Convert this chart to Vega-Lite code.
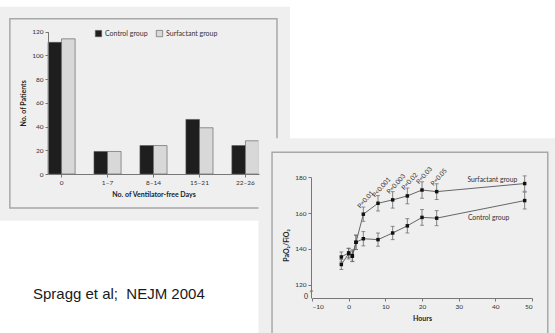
{
  "$schema": "https://vega.github.io/schema/vega-lite/v6.json",
  "width": 555,
  "height": 333,
  "autosize": {"type": "none"},
  "padding": 0,
  "background": "white",
  "config": {
    "view": {"stroke": null},
    "font": "Lato",
    "axis": {
      "labelFont": "Lato", "titleFont": "Lato", "labelFontSize": 6.5, "titleFontSize": 7,
      "titleFontWeight": "bold", "labelColor": "#333", "titleColor": "#222",
      "domainColor": "#777", "tickColor": "#777", "tickSize": 3, "grid": false, "labelPadding": 2
    }
  },
  "datasets": {
    "bars": [
      {"days": "0", "group": "Control group", "n": 111},
      {"days": "0", "group": "Surfactant group", "n": 114},
      {"days": "1–7", "group": "Control group", "n": 19},
      {"days": "1–7", "group": "Surfactant group", "n": 19},
      {"days": "8–14", "group": "Control group", "n": 24},
      {"days": "8–14", "group": "Surfactant group", "n": 24},
      {"days": "15–21", "group": "Control group", "n": 46},
      {"days": "15–21", "group": "Surfactant group", "n": 39},
      {"days": "22–26", "group": "Control group", "n": 24},
      {"days": "22–26", "group": "Surfactant group", "n": 28}
    ],
    "lines": [
      {"group": "Surfactant", "hours": -2, "value": 135.5, "err": 2.8},
      {"group": "Surfactant", "hours": 0, "value": 137.8, "err": 2.5},
      {"group": "Surfactant", "hours": 1, "value": 135.9, "err": 3},
      {"group": "Surfactant", "hours": 2, "value": 143.7, "err": 4},
      {"group": "Surfactant", "hours": 4, "value": 159.4, "err": 4, "p": "P=0.01"},
      {"group": "Surfactant", "hours": 8, "value": 165.5, "err": 4.3, "p": "P<0.001"},
      {"group": "Surfactant", "hours": 12, "value": 167.4, "err": 4.6, "p": "P=0.003"},
      {"group": "Surfactant", "hours": 16, "value": 169.6, "err": 4.4, "p": "P=0.02"},
      {"group": "Surfactant", "hours": 20, "value": 172.9, "err": 4.6, "p": "P=0.03"},
      {"group": "Surfactant", "hours": 24, "value": 172, "err": 4.4, "p": "P=0.05"},
      {"group": "Surfactant", "hours": 48, "value": 176.5, "err": 4.3},
      {"group": "Control", "hours": -2, "value": 131.3, "err": 2.8},
      {"group": "Control", "hours": 0, "value": 137.4, "err": 3},
      {"group": "Control", "hours": 1, "value": 136.3, "err": 3.2},
      {"group": "Control", "hours": 2, "value": 143.7, "err": 4},
      {"group": "Control", "hours": 4, "value": 145.7, "err": 4},
      {"group": "Control", "hours": 8, "value": 145.2, "err": 3.7},
      {"group": "Control", "hours": 12, "value": 148.9, "err": 3.7},
      {"group": "Control", "hours": 16, "value": 152.9, "err": 4},
      {"group": "Control", "hours": 20, "value": 157.6, "err": 4.4},
      {"group": "Control", "hours": 24, "value": 157.2, "err": 4.2},
      {"group": "Control", "hours": 48, "value": 167, "err": 4.7}
    ],
    "panels": [
      {"panel": "bar", "part": "sheet", "hours": -100, "hours2": -16, "value": 275.2, "value2": 155.7},
      {"panel": "bar", "part": "frame", "hours": -92.4, "hours2": -19.55, "value": 268.5, "value2": 162.9},
      {"panel": "line", "part": "sheet", "hours": -24.6, "hours2": 60, "value": 201.8, "value2": 60},
      {"panel": "line", "part": "frame", "hours": -20.9, "hours2": 54.3, "value": 194, "value2": 60}
    ],
    "notes": [
      {"kind": "caption", "hours": -86.1, "value": 111.8, "label": "Spragg et al;\u00a0 NEJM 2004"},
      {"kind": "series", "hours": 46, "value": 178.4, "label": "Surfactant group"},
      {"kind": "series", "hours": 43.8, "value": 157.4, "label": "Control group"},
      {"kind": "zero", "hours": -10, "value": 113, "label": "0"},
      {"kind": "break", "hours": -10, "value": 116.3, "label": "≈"}
    ]
  },
  "resolve": {
    "scale": {"x": "independent", "y": "independent", "color": "independent"},
    "axis": {"x": "independent", "y": "independent"}
  },
  "layer": [
    {
      "layer": [
        {
          "data": {"name": "panels"},
          "transform": [{"filter": "datum.panel == 'bar' && datum.part == 'sheet'"}],
          "mark": {"type": "rect", "fill": "#efefef"},
          "encoding": {
            "x": {"field": "hours", "type": "quantitative", "scale": {"domain": [-10, 50], "range": [312, 532], "nice": false, "zero": false}, "axis": null},
            "x2": {"field": "hours2"},
            "y": {"field": "value", "type": "quantitative", "scale": {"domain": [112.6, 180], "range": [298, 177.3], "nice": false, "zero": false}, "axis": null},
            "y2": {"field": "value2"}
          }
        },
        {
          "data": {"name": "panels"},
          "transform": [{"filter": "datum.panel == 'bar' && datum.part == 'frame'"}],
          "mark": {"type": "rect", "fill": null, "stroke": "#a8a8a8", "strokeWidth": 1.5},
          "encoding": {
            "x": {"field": "hours", "type": "quantitative", "scale": {"domain": [-10, 50], "range": [312, 532], "nice": false, "zero": false}, "axis": null},
            "x2": {"field": "hours2"},
            "y": {"field": "value", "type": "quantitative", "scale": {"domain": [112.6, 180], "range": [298, 177.3], "nice": false, "zero": false}, "axis": null},
            "y2": {"field": "value2"}
          }
        },
        {
          "data": {"name": "notes"},
          "transform": [{"filter": "datum.kind == 'caption'"}],
          "mark": {"type": "text", "align": "left", "baseline": "alphabetic", "font": "Liberation Sans", "fontSize": 15, "color": "#1a1a1a"},
          "encoding": {
            "x": {"field": "hours", "type": "quantitative", "scale": {"domain": [-10, 50], "range": [312, 532], "nice": false, "zero": false}, "axis": null},
            "y": {"field": "value", "type": "quantitative", "scale": {"domain": [112.6, 180], "range": [298, 177.3], "nice": false, "zero": false}, "axis": null},
            "text": {"field": "label"}
          }
        }
      ]
    },
    {
      "data": {"name": "bars"},
      "mark": {"type": "bar", "stroke": "#555", "strokeWidth": 0.6},
      "encoding": {
        "x": {
          "field": "days", "type": "nominal", "sort": null,
          "scale": {"range": [48, 259], "paddingInner": 0.41, "paddingOuter": 0, "align": 0.63},
          "axis": {"orient": "bottom", "offset": -159, "title": "No. of Ventilator-free Days", "labelAngle": 0, "titlePadding": 5, "zindex": 2}
        },
        "xOffset": {"field": "group", "type": "nominal", "sort": null, "scale": {"paddingInner": 0, "paddingOuter": 0}},
        "y": {
          "field": "n", "type": "quantitative",
          "scale": {"domain": [0, 120], "range": [174, 31.7], "nice": false},
          "axis": {"orient": "left", "offset": -48, "values": [0, 20, 40, 60, 80, 100, 120], "title": "No. of Patients", "titlePadding": 5, "zindex": 2}
        },
        "color": {
          "field": "group", "type": "nominal",
          "scale": {"domain": ["Control group", "Surfactant group"], "range": ["#1e1e1e", "#d8d8d8"]},
          "legend": {
            "orient": "none", "legendX": 95, "legendY": 30, "direction": "horizontal", "title": null,
            "symbolType": "square", "symbolSize": 40, "labelFontSize": 7, "labelFont": "Lato", "labelColor": "#333",
            "symbolStrokeColor": "#555", "symbolStrokeWidth": 0.6, "columnPadding": 7, "labelOffset": 3
          }
        }
      }
    },
    {
      "layer": [
        {
          "data": {"name": "panels"},
          "transform": [{"filter": "datum.panel == 'line' && datum.part == 'sheet'"}],
          "mark": {"type": "rect", "fill": "#efefef"},
          "encoding": {
            "x": {"field": "hours", "type": "quantitative", "title": "Hours", "scale": {"domain": [-10, 50], "range": [312, 532], "nice": false, "zero": false}},
            "x2": {"field": "hours2"},
            "y": {"field": "value", "type": "quantitative", "title": "PaO₂/FiO₂", "scale": {"domain": [112.6, 180], "range": [298, 177.3], "nice": false, "zero": false}},
            "y2": {"field": "value2"}
          }
        },
        {
          "data": {"name": "panels"},
          "transform": [{"filter": "datum.panel == 'line' && datum.part == 'frame'"}],
          "mark": {"type": "rect", "fill": null, "stroke": "#a8a8a8", "strokeWidth": 1.5},
          "encoding": {
            "x": {"field": "hours", "type": "quantitative", "title": "Hours", "scale": {"domain": [-10, 50], "range": [312, 532], "nice": false, "zero": false}},
            "x2": {"field": "hours2"},
            "y": {"field": "value", "type": "quantitative", "title": "PaO₂/FiO₂", "scale": {"domain": [112.6, 180], "range": [298, 177.3], "nice": false, "zero": false}},
            "y2": {"field": "value2"}
          }
        },
        {
          "data": {"name": "lines"},
          "mark": {"type": "errorbar", "ticks": {"size": 4, "color": "#666"}, "rule": {"color": "#666", "strokeWidth": 0.8}},
          "encoding": {
            "x": {"field": "hours", "type": "quantitative", "title": "Hours", "scale": {"domain": [-10, 50], "range": [312, 532], "nice": false, "zero": false}},
            "y": {"field": "value", "type": "quantitative", "title": "PaO₂/FiO₂", "scale": {"domain": [112.6, 180], "range": [298, 177.3], "nice": false, "zero": false}},
            "yError": {"field": "err"},
            "detail": {"field": "group"}
          }
        },
        {
          "data": {"name": "lines"},
          "mark": {"type": "line", "color": "#666", "strokeWidth": 1},
          "encoding": {
            "x": {
              "field": "hours", "type": "quantitative", "title": "Hours",
              "scale": {"domain": [-10, 50], "range": [312, 532], "nice": false, "zero": false},
              "axis": {"orient": "bottom", "offset": -35, "title": "Hours", "values": [-10, 0, 10, 20, 30, 40, 50], "titlePadding": 5, "zindex": 2}
            },
            "y": {
              "field": "value", "type": "quantitative", "title": "PaO₂/FiO₂",
              "scale": {"domain": [112.6, 180], "range": [298, 177.3], "nice": false, "zero": false},
              "axis": {"orient": "left", "offset": -311, "title": "PaO₂/FiO₂", "values": [120, 140, 160, 180], "titlePadding": 5, "titleY": 245, "zindex": 2}
            },
            "detail": {"field": "group"}
          }
        },
        {
          "data": {"name": "lines"},
          "mark": {"type": "square", "size": 12, "color": "#111", "opacity": 1, "filled": true},
          "encoding": {
            "x": {"field": "hours", "type": "quantitative", "title": "Hours", "scale": {"domain": [-10, 50], "range": [312, 532], "nice": false, "zero": false}},
            "y": {"field": "value", "type": "quantitative", "title": "PaO₂/FiO₂", "scale": {"domain": [112.6, 180], "range": [298, 177.3], "nice": false, "zero": false}}
          }
        },
        {
          "data": {"name": "lines"},
          "transform": [{"filter": "datum.p"}],
          "mark": {"type": "text", "angle": 312, "align": "left", "baseline": "middle", "dx": 2, "dy": -8, "fontSize": 6.5, "color": "#333"},
          "encoding": {
            "x": {"field": "hours", "type": "quantitative", "title": "Hours", "scale": {"domain": [-10, 50], "range": [312, 532], "nice": false, "zero": false}},
            "y": {"field": "value", "type": "quantitative", "title": "PaO₂/FiO₂", "scale": {"domain": [112.6, 180], "range": [298, 177.3], "nice": false, "zero": false}},
            "text": {"field": "p"}
          }
        },
        {
          "data": {"name": "notes"},
          "transform": [{"filter": "datum.kind == 'series'"}],
          "mark": {"type": "text", "align": "right", "baseline": "middle", "fontSize": 6.8, "color": "#333"},
          "encoding": {
            "x": {"field": "hours", "type": "quantitative", "title": "Hours", "scale": {"domain": [-10, 50], "range": [312, 532], "nice": false, "zero": false}},
            "y": {"field": "value", "type": "quantitative", "title": "PaO₂/FiO₂", "scale": {"domain": [112.6, 180], "range": [298, 177.3], "nice": false, "zero": false}},
            "text": {"field": "label"}
          }
        },
        {
          "data": {"name": "notes"},
          "transform": [{"filter": "datum.kind == 'zero'"}],
          "mark": {"type": "text", "align": "right", "baseline": "middle", "dx": -4, "fontSize": 7, "color": "#222"},
          "encoding": {
            "x": {"field": "hours", "type": "quantitative", "title": "Hours", "scale": {"domain": [-10, 50], "range": [312, 532], "nice": false, "zero": false}},
            "y": {"field": "value", "type": "quantitative", "title": "PaO₂/FiO₂", "scale": {"domain": [112.6, 180], "range": [298, 177.3], "nice": false, "zero": false}},
            "text": {"field": "label"}
          }
        },
        {
          "data": {"name": "notes"},
          "transform": [{"filter": "datum.kind == 'break'"}],
          "mark": {"type": "text", "align": "center", "baseline": "middle", "angle": 300, "fontSize": 8, "color": "#555"},
          "encoding": {
            "x": {"field": "hours", "type": "quantitative", "title": "Hours", "scale": {"domain": [-10, 50], "range": [312, 532], "nice": false, "zero": false}},
            "y": {"field": "value", "type": "quantitative", "title": "PaO₂/FiO₂", "scale": {"domain": [112.6, 180], "range": [298, 177.3], "nice": false, "zero": false}},
            "text": {"field": "label"}
          }
        }
      ]
    }
  ]
}
